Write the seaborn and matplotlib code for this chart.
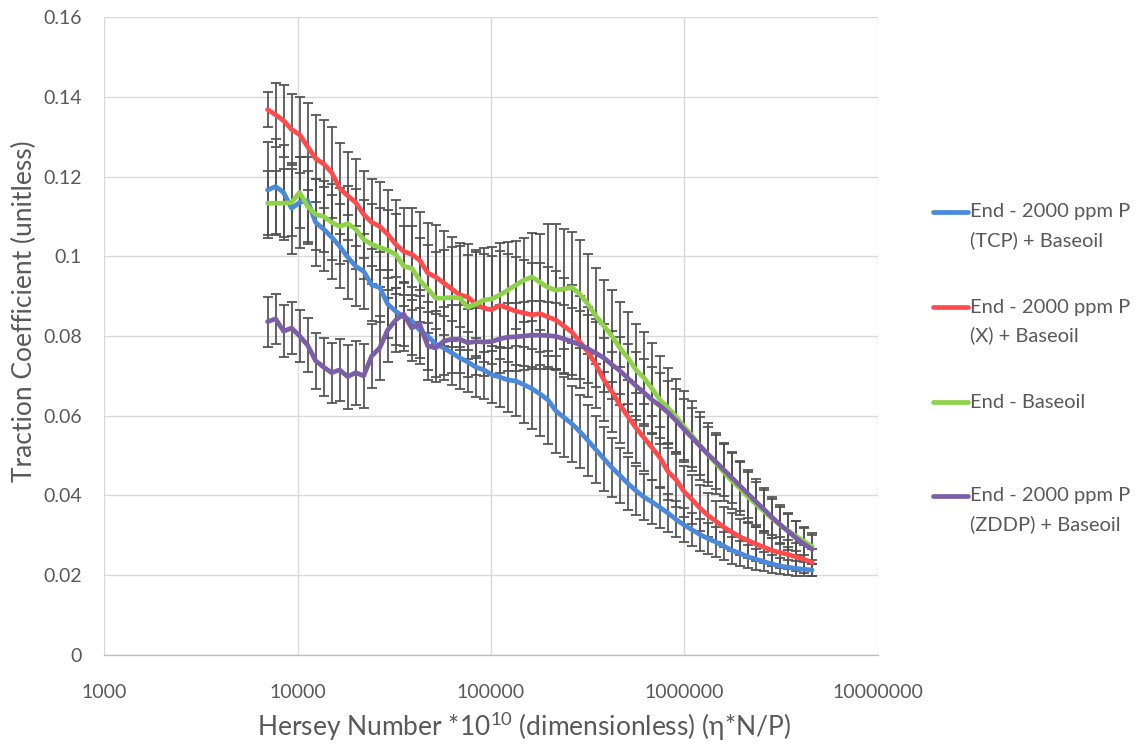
import numpy as np
import pandas as pd
import matplotlib
matplotlib.use("Agg")
import matplotlib.pyplot as plt
import seaborn as sns
from matplotlib.lines import Line2D
from matplotlib.ticker import NullLocator

# Hersey number (x) - shared by all four series
hersey = [7000, 7700, 8470, 9320, 10250, 11270, 12400, 13640, 15010, 16510,
          18160, 19970, 21970, 24170, 26580, 29240, 32170, 35380, 38920, 42810,
          47090, 51800, 56980, 62680, 68950, 75840, 83430, 91770, 100900, 111000,
          122100, 134400, 147800, 162600, 178800, 196700, 216400, 238000, 261800, 288000,
          316800, 348500, 383400, 421700, 463900, 510200, 561300, 617400, 679100, 747000,
          821700, 903900, 994300, 1094000, 1203000, 1323000, 1456000, 1601000, 1761000, 1938000,
          2131000, 2345000, 2579000, 2837000, 3121000, 3433000, 3776000, 4153000, 4569000]

# traction coefficient, End - 2000 ppm P (TCP) + Baseoil
tcp = [0.1166, 0.1175, 0.1160, 0.1120, 0.1135, 0.1140, 0.1085, 0.1068, 0.1048, 0.1025,
       0.0998, 0.0975, 0.0962, 0.0928, 0.0922, 0.0880, 0.0862, 0.0848, 0.0838, 0.0815,
       0.0800, 0.0780, 0.0770, 0.0758, 0.0745, 0.0735, 0.0722, 0.0715, 0.0703, 0.0697,
       0.0690, 0.0687, 0.0678, 0.0668, 0.0655, 0.0640, 0.0612, 0.0596, 0.0580, 0.0560,
       0.0538, 0.0515, 0.0492, 0.0470, 0.0450, 0.0430, 0.0412, 0.0396, 0.0384, 0.0370,
       0.0356, 0.0340, 0.0326, 0.0314, 0.0302, 0.0292, 0.0283, 0.0273, 0.0262, 0.0255,
       0.0246, 0.0240, 0.0234, 0.0228, 0.0223, 0.0220, 0.0217, 0.0215, 0.0213]
tcp_err = [0.0120, 0.0120, 0.0120, 0.0115, 0.0115, 0.0110, 0.0110, 0.0105, 0.0105, 0.0105,
           0.0105, 0.0100, 0.0095, 0.0090, 0.0088, 0.0086, 0.0085, 0.0085, 0.0085, 0.0085,
           0.0085, 0.0082, 0.0080, 0.0080, 0.0078, 0.0076, 0.0074, 0.0072, 0.0072, 0.0074,
           0.0080, 0.0088, 0.0095, 0.0100, 0.0105, 0.0110, 0.0105, 0.0100, 0.0095, 0.0092,
           0.0088, 0.0084, 0.0080, 0.0075, 0.0070, 0.0066, 0.0062, 0.0058, 0.0055, 0.0052,
           0.0048, 0.0045, 0.0043, 0.0041, 0.0040, 0.0039, 0.0037, 0.0035, 0.0033, 0.0031,
           0.0029, 0.0026, 0.0024, 0.0022, 0.0020, 0.0019, 0.0018, 0.0017, 0.0016]

# End - 2000 ppm P (X) + Baseoil
x_add = [0.1368, 0.1355, 0.1340, 0.1318, 0.1305, 0.1275, 0.1245, 0.1232, 0.1210, 0.1170,
         0.1152, 0.1135, 0.1105, 0.1085, 0.1075, 0.1055, 0.1030, 0.1012, 0.1005, 0.0990,
         0.0958, 0.0948, 0.0933, 0.0918, 0.0903, 0.0898, 0.0880, 0.0870, 0.0866, 0.0877,
         0.0870, 0.0862, 0.0858, 0.0853, 0.0856, 0.0848, 0.0840, 0.0825, 0.0810, 0.0785,
         0.0760, 0.0728, 0.0690, 0.0660, 0.0627, 0.0598, 0.0570, 0.0545, 0.0520, 0.0495,
         0.0460, 0.0440, 0.0410, 0.0390, 0.0368, 0.0350, 0.0335, 0.0320, 0.0308, 0.0296,
         0.0287, 0.0278, 0.0270, 0.0262, 0.0257, 0.0252, 0.0246, 0.0240, 0.0232]
x_add_err = [0.0045, 0.0080, 0.0090, 0.0090, 0.0095, 0.0110, 0.0110, 0.0110, 0.0115, 0.0115,
             0.0110, 0.0110, 0.0110, 0.0110, 0.0110, 0.0110, 0.0110, 0.0110, 0.0115, 0.0120,
             0.0125, 0.0130, 0.0130, 0.0130, 0.0130, 0.0132, 0.0135, 0.0135, 0.0135, 0.0135,
             0.0135, 0.0135, 0.0132, 0.0130, 0.0128, 0.0125, 0.0122, 0.0120, 0.0118, 0.0115,
             0.0112, 0.0108, 0.0104, 0.0100, 0.0096, 0.0092, 0.0088, 0.0084, 0.0080, 0.0076,
             0.0072, 0.0068, 0.0064, 0.0061, 0.0058, 0.0055, 0.0052, 0.0050, 0.0048, 0.0046,
             0.0044, 0.0042, 0.0040, 0.0039, 0.0038, 0.0037, 0.0036, 0.0035, 0.0034]

# End - Baseoil
base = [0.1133, 0.1133, 0.1133, 0.1135, 0.1160, 0.1125, 0.1105, 0.1100, 0.1085, 0.1075,
        0.1082, 0.1068, 0.1042, 0.1030, 0.1022, 0.1015, 0.1005, 0.0975, 0.0970, 0.0940,
        0.0918, 0.0895, 0.0895, 0.0897, 0.0895, 0.0872, 0.0880, 0.0890, 0.0893, 0.0903,
        0.0915, 0.0928, 0.0940, 0.0948, 0.0935, 0.0922, 0.0915, 0.0918, 0.0922, 0.0905,
        0.0880, 0.0850, 0.0825, 0.0800, 0.0770, 0.0745, 0.0715, 0.0695, 0.0668, 0.0640,
        0.0620, 0.0598, 0.0573, 0.0550, 0.0525, 0.0503, 0.0480, 0.0458, 0.0436, 0.0418,
        0.0396, 0.0378, 0.0360, 0.0342, 0.0326, 0.0312, 0.0298, 0.0285, 0.0272]
base_err = [0.0080, 0.0080, 0.0085, 0.0085, 0.0090, 0.0090, 0.0090, 0.0090, 0.0095, 0.0095,
            0.0095, 0.0100, 0.0100, 0.0100, 0.0100, 0.0100, 0.0100, 0.0100, 0.0105, 0.0105,
            0.0110, 0.0115, 0.0120, 0.0125, 0.0130, 0.0130, 0.0130, 0.0130, 0.0130, 0.0130,
            0.0120, 0.0110, 0.0105, 0.0110, 0.0120, 0.0160, 0.0165, 0.0150, 0.0140, 0.0135,
            0.0125, 0.0120, 0.0115, 0.0115, 0.0115, 0.0115, 0.0115, 0.0115, 0.0115, 0.0110,
            0.0100, 0.0095, 0.0090, 0.0088, 0.0085, 0.0080, 0.0077, 0.0073, 0.0070, 0.0066,
            0.0062, 0.0057, 0.0053, 0.0049, 0.0045, 0.0041, 0.0038, 0.0035, 0.0033]

# End - 2000 ppm P (ZDDP) + Baseoil
zddp = [0.0836, 0.0843, 0.0812, 0.0820, 0.0800, 0.0777, 0.0738, 0.0722, 0.0708, 0.0715,
        0.0698, 0.0708, 0.0700, 0.0750, 0.0770, 0.0815, 0.0840, 0.0855, 0.0820, 0.0830,
        0.0775, 0.0770, 0.0787, 0.0792, 0.0792, 0.0783, 0.0786, 0.0785, 0.0786, 0.0793,
        0.0797, 0.0798, 0.0800, 0.0802, 0.0802, 0.0801, 0.0799, 0.0793, 0.0786, 0.0778,
        0.0768, 0.0757, 0.0745, 0.0728, 0.0713, 0.0694, 0.0675, 0.0658, 0.0640, 0.0625,
        0.0608, 0.0588, 0.0566, 0.0545, 0.0524, 0.0503, 0.0484, 0.0464, 0.0444, 0.0424,
        0.0404, 0.0384, 0.0365, 0.0345, 0.0327, 0.0310, 0.0293, 0.0278, 0.0265]
zddp_err = [0.0063, 0.0063, 0.0065, 0.0065, 0.0065, 0.0068, 0.0070, 0.0072, 0.0075, 0.0078,
            0.0080, 0.0080, 0.0080, 0.0080, 0.0080, 0.0080, 0.0080, 0.0080, 0.0082, 0.0085,
            0.0085, 0.0085, 0.0085, 0.0085, 0.0085, 0.0085, 0.0085, 0.0085, 0.0085, 0.0085,
            0.0085, 0.0085, 0.0085, 0.0085, 0.0085, 0.0085, 0.0085, 0.0085, 0.0085, 0.0085,
            0.0085, 0.0085, 0.0085, 0.0085, 0.0085, 0.0085, 0.0085, 0.0084, 0.0083, 0.0082,
            0.0080, 0.0078, 0.0076, 0.0074, 0.0072, 0.0070, 0.0068, 0.0066, 0.0064, 0.0062,
            0.0060, 0.0058, 0.0055, 0.0052, 0.0049, 0.0046, 0.0043, 0.0040, 0.0037]

labels = ["End - 2000 ppm P\n(TCP) + Baseoil", "End - 2000 ppm P\n(X) + Baseoil",
          "End - Baseoil", "End - 2000 ppm P\n(ZDDP) + Baseoil"]
colors = ["#4A89DC", "#FF4B4B", "#8ED24A", "#7B5EA7"]

series = [(tcp, tcp_err), (x_add, x_add_err), (base, base_err), (zddp, zddp_err)]

rows = []
for lab, (vals, _) in zip(labels, series):
    for h, v in zip(hersey, vals):
        rows.append((h, v, lab))
df = pd.DataFrame(rows, columns=["hersey", "traction", "series"])

sns.set_theme(style="white")
plt.rcParams["font.family"] = ["Lato", "DejaVu Sans"]
plt.rcParams["mathtext.fontset"] = "custom"
plt.rcParams["mathtext.rm"] = "Lato"

txt = "#595959"
fig = plt.figure(figsize=(11.42, 7.47), dpi=100)
ax = fig.add_axes([0.0911, 0.1232, 0.6777, 0.854])

# error bars first, lines on top
for vals, err in series:
    ax.errorbar(hersey, vals, yerr=err, fmt="none", ecolor="#505050",
                elinewidth=1.25, capsize=3.5, capthick=1.25, zorder=2)

sns.lineplot(data=df, x="hersey", y="traction", hue="series", palette=colors,
             hue_order=labels, linewidth=3.4, legend=False, sort=False,
             estimator=None, ax=ax, zorder=3)

ax.set_xscale("log")
ax.set_xlim(1000, 1e7)
ax.set_ylim(0, 0.16)
ax.set_xticks([1e3, 1e4, 1e5, 1e6, 1e7])
ax.set_xticklabels(["1000", "10000", "100000", "1000000", "10000000"])
ax.xaxis.set_minor_locator(NullLocator())
yt = [0, 0.02, 0.04, 0.06, 0.08, 0.1, 0.12, 0.14, 0.16]
ax.set_yticks(yt)
ax.set_yticklabels(["0", "0.02", "0.04", "0.06", "0.08", "0.1", "0.12", "0.14", "0.16"])
ax.tick_params(axis="both", length=0, labelsize=14, labelcolor=txt)
ax.tick_params(axis="x", pad=21)
ax.tick_params(axis="y", pad=16)
ax.grid(True, color="#D9D9D9", linewidth=1.0)
ax.set_axisbelow(True)
for s in ["top", "right", "left"]:
    ax.spines[s].set_visible(False)
ax.spines["bottom"].set_color("#BFBFBF")
ax.spines["bottom"].set_linewidth(1.0)

ax.set_xlabel(r"Hersey Number *10$^{10}$ (dimensionless) (η*N/P)", fontsize=19,
              color=txt)
ax.set_ylabel("Traction Coefficient (unitless)", fontsize=19, color=txt)
ax.xaxis.set_label_coords(0.543, -0.086)
ax.yaxis.set_label_coords(-0.087, 0.539)

# legend drawn by hand so the handle lines up with the first text line
W, H = 1142, 747
leg_y = [212, 307, 402, 496]
for lab, col, yy in zip(labels, colors, leg_y):
    fy = 1 - yy / H
    fig.add_artist(Line2D([933 / W, 968 / W], [fy, fy], transform=fig.transFigure,
                          color=col, linewidth=3.4))
    for i, line in enumerate(lab.split("\n")):
        fig.text(970 / W, 1 - (yy + 28 * i) / H, line, fontsize=14.5, color=txt,
                 va="center", ha="left")

fig.savefig("out.png", dpi=100)
